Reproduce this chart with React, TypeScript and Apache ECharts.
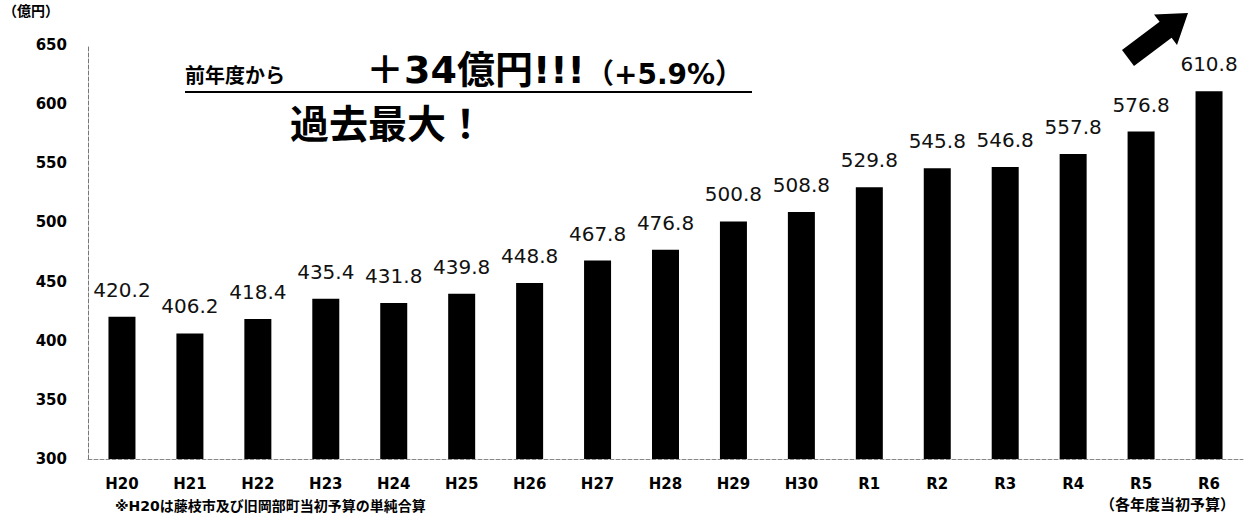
import React, { useEffect, useRef } from "react";
import * as echarts from "echarts";

const categories = ["H20", "H21", "H22", "H23", "H24", "H25", "H26", "H27", "H28", "H29", "H30", "R1", "R2", "R3", "R4", "R5", "R6"];
const budgetValues = [420.2, 406.2, 418.4, 435.4, 431.8, 439.8, 448.8, 467.8, 476.8, 500.8, 508.8, 529.8, 545.8, 546.8, 557.8, 576.8, 610.8];
const yMin = 300;
const yMax = 650;
const yInterval = 50;
const unitLabel = "（億円）";
const headlineA = "前年度から";
const headlineB = "＋34億円!!!";
const headlineC = "（+5.9%）";
const headline2 = "過去最大！";
const footnote = "※H20は藤枝市及び旧岡部町当初予算の単純合算";
const sourceNote = "（各年度当初予算）";

const FONT = "'DejaVu Sans', 'Noto Sans CJK JP', sans-serif";

export default function App() {
  const ref = useRef<HTMLDivElement>(null);
  useEffect(() => {
    if (!ref.current) return;
    const chart = echarts.init(ref.current, undefined, { renderer: "svg" });
    chart.setOption({
      animation: false,
      backgroundColor: "#ffffff",
      grid: { left: 88, right: 10, top: 45, bottom: 65, containLabel: false },
      xAxis: {
        type: "category",
        data: categories,
        axisLine: { show: true, lineStyle: { color: "#888", type: "dashed", width: 1 } },
        axisTick: { show: false },
        axisLabel: { color: "#000", fontFamily: FONT, fontSize: 15, fontWeight: "bold", margin: 17 },
      },
      yAxis: {
        type: "value",
        min: yMin,
        max: yMax,
        interval: yInterval,
        axisLine: { show: true, lineStyle: { color: "#777", type: "dashed", width: 1 } },
        axisTick: { show: false },
        splitLine: { show: false },
        axisLabel: { color: "#000", fontFamily: FONT, fontSize: 15, fontWeight: "bold", margin: 21 },
      },
      series: [
        {
          type: "bar",
          data: budgetValues,
          barWidth: 27,
          itemStyle: { color: "#000" },
          label: {
            show: true,
            position: "top",
            distance: 17,
            color: "#111",
            fontFamily: FONT,
            fontSize: 20,
            formatter: (p: any) => p.value.toFixed(1),
          },
        },
      ],
      graphic: [
        {
          type: "text",
          left: 3,
          top: 4,
          style: { text: unitLabel, fontFamily: FONT, fontSize: 14, fontWeight: "bold", fill: "#000" },
        },
        {
          type: "text",
          x: 185,
          y: 86,
          style: {
            text: headlineA,
            verticalAlign: "bottom",
            fontFamily: FONT,
            fontSize: 20,
            fontWeight: "bold",
            fill: "#000",
          },
        },
        {
          type: "text",
          x: 366,
          y: 89,
          style: {
            text: headlineB,
            verticalAlign: "bottom",
            fontFamily: FONT,
            fontSize: 38,
            fontWeight: "bold",
            fill: "#000",
          },
        },
        {
          type: "text",
          x: 586,
          y: 88,
          style: {
            text: headlineC,
            verticalAlign: "bottom",
            fontFamily: FONT,
            fontSize: 28,
            fontWeight: "bold",
            fill: "#000",
          },
        },
        {
          type: "line",
          shape: { x1: 185, y1: 92, x2: 752, y2: 92 },
          style: { stroke: "#000", lineWidth: 2 },
        },
        {
          type: "text",
          x: 290,
          y: 105,
          style: { text: headline2, fontFamily: FONT, fontSize: 39, fontWeight: "bold", fill: "#000" },
        },
        {
          type: "polygon",
          shape: {
            points: [
              [1122, 50],
              [1159.6, 21.8],
              [1154, 14.6],
              [1188, 13],
              [1177, 45],
              [1171.6, 37.8],
              [1134, 66],
            ],
          },
          style: { fill: "#000" },
        },
        {
          type: "text",
          x: 115,
          y: 499,
          style: { text: footnote, fontFamily: FONT, fontSize: 14, fontWeight: "bold", fill: "#000" },
        },
        {
          type: "text",
          x: 1100,
          y: 497,
          style: { text: sourceNote, fontFamily: FONT, fontSize: 15, fontWeight: "bold", fill: "#000" },
        },
      ],
    });
    return () => chart.dispose();
  }, []);
  return (
    <div
      ref={ref}
      style={{ position: "fixed", left: 0, top: 0, width: 1253, height: 524, background: "#fff" }}
    />
  );
}
